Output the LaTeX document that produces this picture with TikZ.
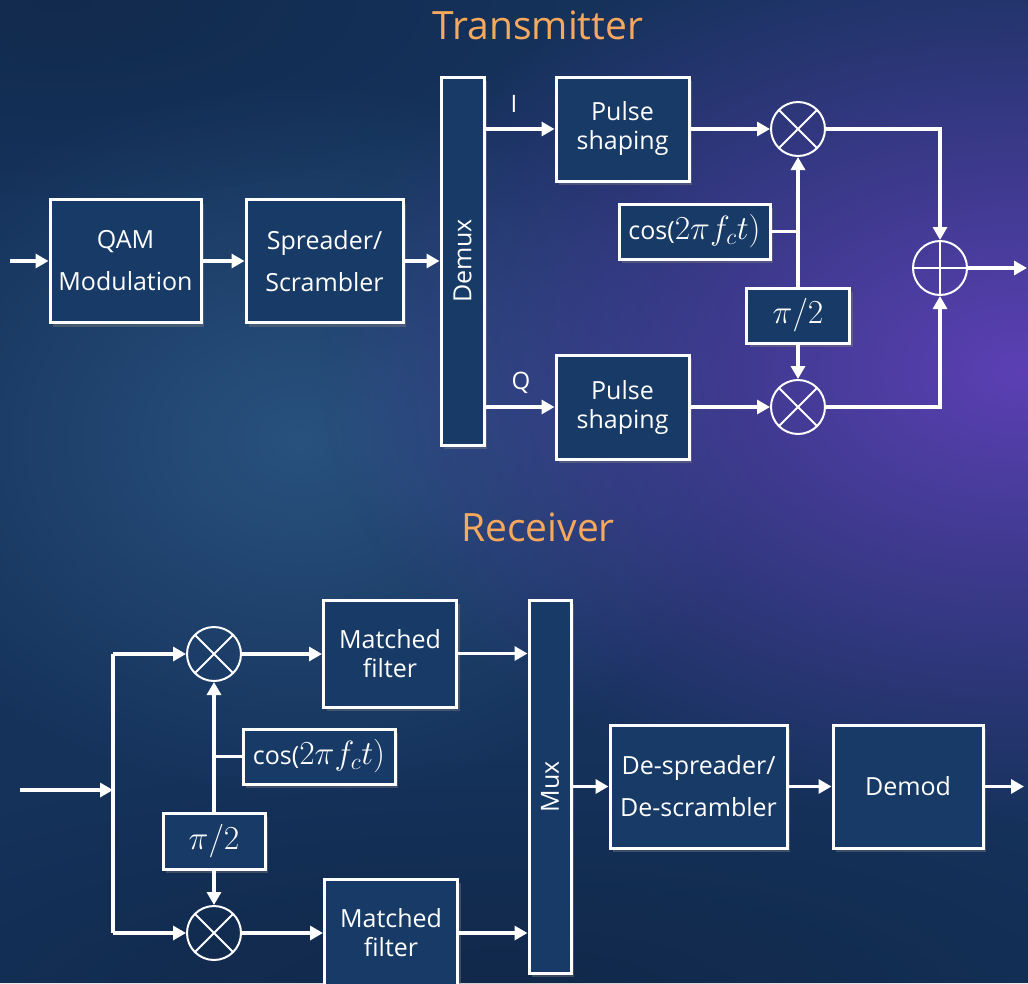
\documentclass[tikz,border=0pt]{standalone}
\usepackage{fontspec}
\setmainfont{Open Sans}
\usetikzlibrary{arrows.meta,shadows,fadings}
\definecolor{bgbase}{HTML}{15325B}
\definecolor{bglight}{HTML}{29527E}
\definecolor{bgpurple}{HTML}{5C40B4}
\definecolor{boxfill}{HTML}{173A66}
\definecolor{titlecol}{HTML}{F6A95C}
\tikzfading[name=glowfade, inner color=transparent!0, outer color=transparent!100]
\newcommand{\mybigmath}[1]{\scalebox{1.35}{$#1$}}
\begin{document}
\begin{tikzpicture}[x=1pt,y=-1pt,
  box/.style={draw=white, line width=3pt, fill=boxfill, text=white, align=center, inner sep=0pt,
    drop shadow={opacity=0.4, shadow xshift=3pt, shadow yshift=-4pt}},
  txt/.style={font=\fontsize{25}{42}\selectfont},
  txtn/.style={font=\fontsize{25}{29}\selectfont},
  mathtxt/.style={font=\fontsize{25}{30}\selectfont},
  op/.style={circle, draw=white, line width=2pt, minimum size=54pt, inner sep=0pt},
  mult/.style={op, path picture={\draw[white,line width=2pt]
     (path picture bounding box.north west) -- (path picture bounding box.south east)
     (path picture bounding box.north east) -- (path picture bounding box.south west);}},
  summ/.style={op, path picture={\draw[white,line width=2pt]
     (path picture bounding box.north) -- (path picture bounding box.south)
     (path picture bounding box.east) -- (path picture bounding box.west);}},
  arr/.style={draw=white, line width=3.2pt, -{Triangle[length=13pt,width=14pt]}},
  ln/.style={draw=white, line width=3.2pt},
  title/.style={text=titlecol, font=\fontsize{39}{42}\selectfont},
  lbl/.style={text=white, font=\fontsize{24}{28}\selectfont}
]
\useasboundingbox (0,0) rectangle (1028,983);
\begin{scope}
\clip (0,0) rectangle (1028,983);
\fill[bgbase] (0,0) rectangle (1028,983);
\fill[bglight, path fading=glowfade] (300,440) ellipse [x radius=460pt, y radius=360pt];
\fill[bgpurple, path fading=glowfade] (1020,370) ellipse [x radius=700pt, y radius=460pt];
\fill[black, opacity=0.15, path fading=glowfade] (60,0) ellipse [x radius=500pt, y radius=200pt];
\fill[black, opacity=0.2, path fading=glowfade] (500,1000) ellipse [x radius=800pt, y radius=240pt];
\end{scope}

% ---------- Transmitter ----------
\node[title] (ttx) at (538,25) {Transmitter};
\node[box, txt, minimum width=151pt, minimum height=123pt] (qam) at (125.5,261) {QAM\\Modulation};
\node[box, txt, minimum width=157pt, minimum height=123pt] (spr) at (324.5,261) {Spreader/\\Scrambler};
\node[box, txt, minimum width=43pt, minimum height=368pt] (demux) at (462.5,261) {\rotatebox{90}{Demux}};
\node[box, txtn, minimum width=133pt, minimum height=104pt] (ps1) at (622.5,129) {Pulse\\shaping};
\node[box, txtn, minimum width=133pt, minimum height=104pt] (ps2) at (622.5,407) {Pulse\\shaping};
\node[mult] (m1) at (798,129) {};
\node[mult] (m2) at (798,407) {};
\node[summ] (sum) at (940,268) {};
\node[box, mathtxt, minimum width=151pt, minimum height=55pt] (cos1) at (694.5,231.5) {cos(\mybigmath{2\pi f_c t)}};
\node[box, mathtxt, minimum width=103pt, minimum height=55pt] (pi1) at (798,315.5) {\mybigmath{\pi/2}};
\node[lbl] (li) at (514,104) {I};
\node[lbl] (lq) at (521,383) {Q};
\coordinate (tin) at (10,261);
\coordinate (tout) at (1027,268);

\draw[arr] (tin) -- (qam);
\draw[arr] (qam) -- (spr);
\draw[arr] (spr) -- (demux);
\draw[arr] (demux.east |- ps1) -- (ps1);
\draw[arr] (demux.east |- ps2) -- (ps2);
\draw[arr] (ps1) -- (m1);
\draw[arr] (ps2) -- (m2);
\draw[arr] (m1.east) -| (sum.north);
\draw[arr] (m2.east) -| (sum.south);
\draw[arr] (sum) -- (tout);
\draw[arr] (pi1.north) -- (m1.south);
\draw[arr] (pi1.south) -- (m2.north);
\draw[ln] (cos1.east) -- (cos1.east -| m1.south);

% ---------- Receiver ----------
\node[title] (trx) at (538,527) {Receiver};
\node[mult] (rm1) at (214,654) {};
\node[mult] (rm2) at (214,933) {};
\node[box, txtn, minimum width=133pt, minimum height=107pt] (mf1) at (390,653.5) {Matched\\filter};
\node[box, txtn, minimum width=133pt, minimum height=107pt] (mf2) at (391,932.5) {Matched\\filter};
\node[box, txt, minimum width=42pt, minimum height=373pt] (mux) at (550,786.5) {\rotatebox{90}{Mux}};
\node[box, txt, minimum width=177pt, minimum height=123pt] (desp) at (698.5,786.5) {De-spreader/\\De-scrambler};
\node[box, txt, minimum width=150pt, minimum height=123pt] (demod) at (908,786.5) {Demod};
\node[box, mathtxt, minimum width=152pt, minimum height=55pt] (rcos) at (319,756.5) {cos(\mybigmath{2\pi f_c t)}};
\node[box, mathtxt, minimum width=102pt, minimum height=56pt] (rpi) at (214,841) {\mybigmath{\pi/2}};
\coordinate (rin) at (20,790);
\coordinate (rsplit) at (113,790);
\coordinate (rout) at (1024,786.5);

\draw[arr] (rin) -- (rsplit);
\draw[ln] (rsplit |- rm1) -- (rsplit |- rm2);
\draw[arr] (rsplit |- rm1) -- (rm1);
\draw[arr] (rsplit |- rm2) -- (rm2);
\draw[arr] (rm1) -- (rm1 -| mf1.west);
\draw[arr] (rm2) -- (rm2 -| mf2.west);
\draw[arr] (mf1.east) -- (mf1.east -| mux.west);
\draw[arr] (mf2.east |- rm2) -- (rm2 -| mux.west);
\draw[arr] (mux) -- (desp);
\draw[arr] (desp) -- (demod);
\draw[arr] (demod) -- (rout);
\draw[arr] (rpi.north) -- (rm1.south);
\draw[arr] (rpi.south) -- (rm2.north);
\draw[ln] (rcos.west) -- (rcos.west -| rm1.south);
\end{tikzpicture}
\end{document}
